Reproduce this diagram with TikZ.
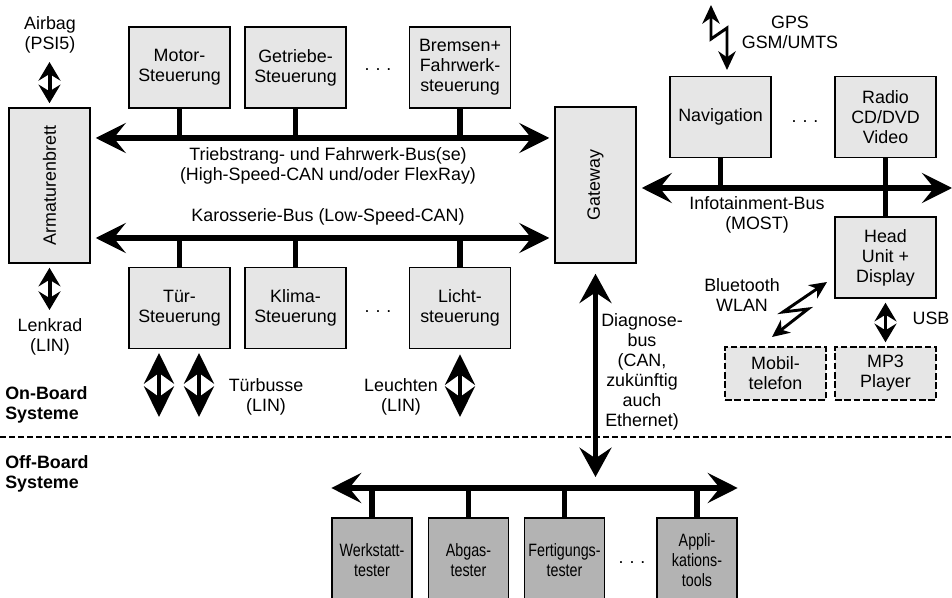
\documentclass[tikz,border=0pt]{standalone}
\usepackage{fontspec}
\setmainfont{Liberation Sans}
\newfontfamily\condfont[FakeStretch=0.8]{Liberation Sans}
\usetikzlibrary{arrows.meta}
\definecolor{lightbox}{HTML}{E6E6E6}
\definecolor{darkbox}{HTML}{B3B3B3}
\begin{document}
\begin{tikzpicture}[x=0.75pt,y=-0.75pt,
  font=\fontsize{13.4}{15}\selectfont,
  box/.style={draw, line width=1.1pt, fill=lightbox, align=center, inner sep=0pt,
              minimum width=75.75pt, minimum height=60.75pt},
  dbox/.style={box, fill=darkbox, minimum width=60pt, minimum height=63pt,
               font=\condfont\fontsize{13.4}{15}\selectfont},
  dashbox/.style={box, dash pattern=on 5pt off 2pt, minimum height=39.75pt},
  lbl/.style={align=center, inner sep=0pt},
  bus/.style={line width=4.2pt, {Stealth[length=22.5pt,width=22.5pt,inset=9pt]}-{Stealth[length=22.5pt,width=22.5pt,inset=9pt]}},
  stub/.style={line width=3.9pt},
  darrow/.style={line width=3pt, {Stealth[length=14pt,width=16.5pt,inset=5pt]}-{Stealth[length=14pt,width=16.5pt,inset=5pt]}},
  bigarrow/.style={line width=3pt, {Stealth[length=23pt,width=22.5pt,inset=8pt]}-{Stealth[length=23pt,width=22.5pt,inset=8pt]}},
  diagarrow/.style={line width=3.2pt, {Stealth[length=22pt,width=24pt,inset=8pt]}-{Stealth[length=22pt,width=24pt,inset=8pt]}},
  zig/.style={line width=2.2pt, {Stealth[length=14pt,width=13pt,inset=4.5pt]}-{Stealth[length=14pt,width=13pt,inset=4.5pt]}},
  zigb/.style={line width=2.2pt, {Stealth[length=13pt,width=12pt,inset=4pt]}-{Stealth[length=13pt,width=12pt,inset=4pt]}},
  sep/.style={line width=1.1pt, dash pattern=on 4.5pt off 2.25pt},
]
\path[use as bounding box, clip] (0,0) rectangle (952,598);

% ---------- on-board left part ----------
\node[box, minimum width=60.75pt, minimum height=116.25pt] (arm) at (49.5,185.5) {};
\node[rotate=90, inner sep=0pt] (armlbl) at (arm) {Armaturenbrett};

\node[box] (motor) at (179.5,67.5) {Motor-\\Steuerung};
\node[box] (getr)  at (295.5,67.5) {Getriebe-\\Steuerung};
\node[box] (brems) at (460,67.5)   {Bremsen+\\Fahrwerk-\\steuerung};
\node[lbl] (dots1) at (378,70) {.\,\,.\,\,.};

\node[box, minimum width=60.75pt, minimum height=117pt] (gw) at (595.5,185) {};
\node[rotate=90, inner sep=0pt] (gwlbl) at (gw) {Gateway};

\node[box] (tuer)  at (179.5,308) {Tür-\\Steuerung};
\node[box] (klima) at (295.5,308) {Klima-\\Steuerung};
\node[box] (licht) at (460,308)   {Licht-\\steuerung};
\node[lbl] (dots2) at (378,312) {.\,\,.\,\,.};

% buses
\coordinate (tb) at (0,138);
\coordinate (kb) at (0,238);
\draw[bus, shorten <=3.75pt, shorten >=3.75pt] (arm.east |- tb) -- (gw.west |- tb);
\draw[bus, shorten <=3.75pt, shorten >=3.75pt] (arm.east |- kb) -- (gw.west |- kb);
\draw[stub] (motor.south) -- (motor.south |- tb);
\draw[stub] (getr.south) -- (getr.south |- tb);
\draw[stub] (brems.south) -- (brems.south |- tb);
\draw[stub] (tuer.north) -- (tuer.north |- kb);
\draw[stub] (klima.north) -- (klima.north |- kb);
\draw[stub] (licht.north) -- (licht.north |- kb);

\node[lbl] (tblbl) at (328,166) {Triebstrang- und Fahrwerk-Bus(se)\\(High-Speed-CAN und/oder FlexRay)};
\node[lbl] (kblbl) at (328,217) {Karosserie-Bus (Low-Speed-CAN)};

% airbag / lenkrad
\node[lbl] (airbag) at (50,35) {Airbag\\(PSI5)};
\coordinate (abend) at (49.5,62);
\draw[darrow, shorten >=3pt] (abend) -- (arm.north);
\node[lbl] (lenk) at (50,337) {Lenkrad\\(LIN)};
\coordinate (lkend) at (49.5,310);
\draw[darrow, shorten <=3pt] (arm.south) -- (lkend);

% door / light LIN arrows
\coordinate (t1a) at (159,353); \coordinate (t1b) at (159,417);
\coordinate (t2a) at (199,353); \coordinate (t2b) at (199,417);
\draw[bigarrow] (t1a) -- (t1b);
\draw[bigarrow] (t2a) -- (t2b);
\node[lbl] (tblin) at (266,397) {Türbusse\\(LIN)};
\coordinate (la) at (460,417);
\draw[bigarrow, shorten <=3.75pt] (licht.south) -- (la);
\node[lbl] (leu) at (401,397) {Leuchten\\(LIN)};

% ---------- infotainment ----------
\node[box] (nav)   at (720.5,117) {Navigation};
\node[box] (radio) at (885.5,117) {Radio\\CD/DVD\\Video};
\node[lbl] (dots3) at (805,122) {.\,\,.\,\,.};
\node[box] (head)  at (885.5,257.5) {Head\\Unit +\\Display};
\coordinate (ie) at (952,188);
\draw[bus, shorten <=3.75pt] (gw.east |- ie) -- (ie);
\draw[stub] (nav.south) -- (nav.south |- ie);
\draw[stub] (radio.south) -- (head.north);
\node[lbl] (ilbl) at (757,215) {Infotainment-Bus\\(MOST)};

\node[lbl] (gps) at (790,32) {GPS\\GSM/UMTS};
\coordinate (g1) at (711,5);
\coordinate (g2) at (727,70);
\draw[zig] (g1) -- (711,39) -- (727,28) -- (g2);

\node[dashbox] (mobil) at (775.5,373.5) {Mobil-\\telefon};
\node[dashbox] (mp3)   at (885.5,373.5) {MP3\\Player};
\node[lbl] (bt) at (742,295) {Bluetooth\\WLAN};
\coordinate (b1) at (772,337);
\coordinate (b2) at (827,282);
\draw[zigb] (b1) -- (808,309) -- (783,312) -- (b2);
\draw[darrow, line width=2.6pt, shorten <=3pt, shorten >=3pt] (head.south) -- (mp3.north);
\node[lbl] (usb) at (931,318) {USB};

% ---------- separator ----------
\coordinate (s1) at (0,437);
\coordinate (s2) at (952,437);
\draw[sep] (s1) -- (s2);
\node[lbl, anchor=west, align=left, font=\fontsize{13.4}{15}\selectfont\bfseries] (onb) at (5,405) {On-Board\\Systeme};
\node[lbl, anchor=west, align=left, font=\fontsize{13.4}{15}\selectfont\bfseries] (offb) at (5,474) {Off-Board\\Systeme};

% ---------- off-board ----------
\node[dbox] (werk) at (372,560)   {Werkstatt-\\tester};
\node[dbox] (abg)  at (468.5,560) {Abgas-\\tester};
\node[dbox] (fert) at (564.5,560) {Fertigungs-\\tester};
\node[dbox] (appl) at (697,560)   {Appli-\\kations-\\tools};
\node[lbl] (dots4) at (632,563) {.\,\,.\,\,.};
\coordinate (lb) at (0,488);
\draw[bus] (werk.west |- lb) -- (appl.east |- lb);
\draw[stub] (werk.north) -- (werk.north |- lb);
\draw[stub] (abg.north) -- (abg.north |- lb);
\draw[stub] (fert.north) -- (fert.north |- lb);
\draw[stub] (appl.north) -- (appl.north |- lb);

\draw[diagarrow, shorten <=7.5pt, shorten >=8.25pt] (gw.south) -- (gw.south |- lb);
\node[lbl] (diag) at (642,371.5) {Diagnose-\\bus\\(CAN,\\zukünftig\\auch\\Ethernet)};
\end{tikzpicture}
\end{document}
